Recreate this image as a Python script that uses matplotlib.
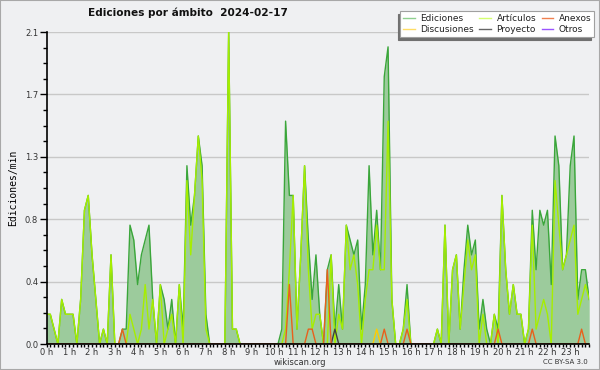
import matplotlib
matplotlib.use('Agg')
import matplotlib.pyplot as plt
import matplotlib.ticker as ticker
from matplotlib.lines import Line2D
from matplotlib.patches import Rectangle
import numpy as np

# edits per minute, one value per 10-minute slot (00:00 .. 23:50)
ediciones = [0.2, 0.2, 0.1, 0.0, 0.3, 0.2, 0.2, 0.2, 0.0, 0.3, 0.9, 1.0,
             0.6, 0.3, 0.0, 0.1, 0.0, 0.6, 0.0, 0.0, 0.1, 0.1, 0.8, 0.7,
             0.4, 0.6, 0.7, 0.8, 0.3, 0.0, 0.4, 0.3, 0.1, 0.3, 0.0, 0.4,
             0.1, 1.2, 0.8, 1.0, 1.4, 1.2, 0.2, 0.0, 0.0, 0.0, 0.0, 0.0,
             2.1, 0.1, 0.1, 0.0, 0.0, 0.0, 0.0, 0.0, 0.0, 0.0, 0.0, 0.0,
             0.0, 0.0, 0.1, 1.5, 1.0, 1.0, 0.1, 0.6, 1.2, 0.7, 0.3, 0.6,
             0.2, 0.0, 0.5, 0.6, 0.1, 0.4, 0.1, 0.8, 0.7, 0.6, 0.7, 0.1,
             0.4, 1.2, 0.6, 0.9, 0.5, 1.8, 2.0, 0.3, 0.0, 0.0, 0.1, 0.4,
             0.0, 0.0, 0.0, 0.0, 0.0, 0.0, 0.0, 0.1, 0.0, 0.8, 0.0, 0.5,
             0.6, 0.1, 0.5, 0.8, 0.6, 0.7, 0.1, 0.3, 0.1, 0.0, 0.2, 0.1,
             1.0, 0.5, 0.2, 0.4, 0.2, 0.2, 0.0, 0.1, 0.9, 0.5, 0.9, 0.8,
             0.9, 0.4, 1.4, 1.2, 0.5, 0.6, 1.2, 1.4, 0.3, 0.5, 0.5, 0.3]

articulos = [0.2, 0.2, 0.1, 0.0, 0.3, 0.2, 0.2, 0.2, 0.0, 0.3, 0.9, 1.0,
             0.6, 0.3, 0.0, 0.1, 0.0, 0.6, 0.0, 0.0, 0.0, 0.0, 0.2, 0.1,
             0.0, 0.1, 0.4, 0.1, 0.3, 0.0, 0.4, 0.0, 0.1, 0.2, 0.0, 0.4,
             0.0, 1.1, 0.6, 1.0, 1.4, 1.1, 0.1, 0.0, 0.0, 0.0, 0.0, 0.0,
             2.1, 0.1, 0.1, 0.0, 0.0, 0.0, 0.0, 0.0, 0.0, 0.0, 0.0, 0.0,
             0.0, 0.0, 0.0, 0.1, 0.5, 1.0, 0.1, 0.6, 1.2, 0.5, 0.1, 0.2,
             0.2, 0.0, 0.0, 0.6, 0.0, 0.2, 0.1, 0.8, 0.5, 0.6, 0.4, 0.0,
             0.3, 0.5, 0.5, 0.8, 0.5, 0.5, 1.5, 0.3, 0.0, 0.0, 0.1, 0.3,
             0.0, 0.0, 0.0, 0.0, 0.0, 0.0, 0.0, 0.1, 0.0, 0.8, 0.0, 0.5,
             0.6, 0.1, 0.4, 0.7, 0.5, 0.6, 0.0, 0.2, 0.0, 0.0, 0.2, 0.0,
             1.0, 0.5, 0.2, 0.4, 0.2, 0.2, 0.0, 0.1, 0.8, 0.1, 0.2, 0.3,
             0.2, 0.0, 1.1, 0.8, 0.5, 0.6, 0.7, 0.8, 0.2, 0.3, 0.4, 0.3]

anexos = [0.0, 0.0, 0.0, 0.0, 0.0, 0.0, 0.0, 0.0, 0.0, 0.0, 0.0, 0.0,
          0.0, 0.0, 0.0, 0.0, 0.0, 0.0, 0.0, 0.0, 0.1, 0.0, 0.0, 0.0,
          0.0, 0.0, 0.0, 0.0, 0.0, 0.0, 0.0, 0.0, 0.0, 0.0, 0.0, 0.0,
          0.0, 0.0, 0.0, 0.0, 0.0, 0.0, 0.0, 0.0, 0.0, 0.0, 0.0, 0.0,
          0.0, 0.0, 0.0, 0.0, 0.0, 0.0, 0.0, 0.0, 0.0, 0.0, 0.0, 0.0,
          0.0, 0.0, 0.0, 0.0, 0.4, 0.0, 0.0, 0.0, 0.0, 0.1, 0.1, 0.0,
          0.0, 0.0, 0.5, 0.0, 0.0, 0.0, 0.0, 0.0, 0.0, 0.0, 0.0, 0.0,
          0.0, 0.0, 0.0, 0.0, 0.0, 0.1, 0.0, 0.0, 0.0, 0.0, 0.0, 0.1,
          0.0, 0.0, 0.0, 0.0, 0.0, 0.0, 0.0, 0.0, 0.0, 0.0, 0.0, 0.0,
          0.0, 0.0, 0.0, 0.0, 0.0, 0.0, 0.0, 0.0, 0.0, 0.0, 0.0, 0.1,
          0.0, 0.0, 0.0, 0.0, 0.0, 0.0, 0.0, 0.0, 0.1, 0.0, 0.0, 0.0,
          0.0, 0.0, 0.0, 0.0, 0.0, 0.0, 0.0, 0.0, 0.0, 0.1, 0.0, 0.0]

discusiones = [0.0] * 87 + [0.1] + [0.0] * 56
proyecto = [0.0] * 76 + [0.1] + [0.0] * 67
otros = [0.0] * 144

hour_labels = ['%d h' % h for h in range(24)]
yticks = [0.0, 0.42, 0.84, 1.26, 1.68, 2.1]

bg = '#eff0f2'
series = [
    ('Ediciones', ediciones, '#3aa63a', '#8fd08f'),
    ('Discusiones', discusiones, '#ffcc00', '#ffdd66'),
    ('Artículos', articulos, '#a6ee00', '#d4ff70'),
    ('Proyecto', proyecto, '#404040', '#666666'),
    ('Anexos', anexos, '#e8601c', '#f08050'),
    ('Otros', otros, '#8833ff', '#9a55ff'),
]

fig = plt.figure(figsize=(6, 3.7), dpi=100, facecolor=bg)
ax = fig.add_axes([46.5 / 600, 26 / 370, 542.7 / 600, 312 / 370])
ax.set_facecolor(bg)

x = np.arange(len(ediciones))
ax.fill_between(x, ediciones, 0, color='#9ccb9c', lw=0, zorder=1)
ax.plot(x, ediciones, color='#3aa63a', lw=1.0, zorder=2)
ax.plot(x, articulos, color='#a6ee00', lw=1.0, zorder=2.1)
ax.plot(x, discusiones, color='#ffcc00', lw=1.0, zorder=2.2)
ax.plot(x, proyecto, color='#404040', lw=1.0, zorder=2.2)
ax.plot(x, anexos, color='#e8601c', lw=1.0, zorder=2.3)
ax.plot(x, otros, color='#8833ff', lw=1.0, zorder=2.2)

ax.set_xlim(0, len(ediciones) - 1)
ax.set_ylim(0, 2.1)

ax.xaxis.set_major_locator(ticker.FixedLocator(np.arange(0, 144, 6)))
ax.xaxis.set_major_formatter(ticker.FixedFormatter(hour_labels))
ax.xaxis.set_minor_locator(ticker.MultipleLocator(1))
ax.yaxis.set_major_locator(ticker.FixedLocator(yticks))
ax.yaxis.set_major_formatter(ticker.FormatStrFormatter('%.1f'))
ax.yaxis.set_minor_locator(ticker.FixedLocator(np.arange(0, 2.11, 0.105)))

ax.tick_params(axis='x', which='major', length=2.5, width=1, labelsize=6, pad=0.5)
ax.tick_params(axis='x', which='minor', length=2.5, width=1)
ax.tick_params(axis='y', which='major', length=5, width=1, labelsize=6, pad=1)
ax.tick_params(axis='y', which='minor', length=3, width=1)
for lab in ax.get_xticklabels() + ax.get_yticklabels():
    lab.set_color('#333333')

ax.grid(axis='y', which='major', color='#c8c8c8', lw=1)
ax.set_axisbelow(True)
for s in ['top', 'right']:
    ax.spines[s].set_visible(False)
for s in ['left', 'bottom']:
    ax.spines[s].set_linewidth(1.2)
    ax.spines[s].set_zorder(5)

ax.set_ylabel('Ediciones/min', family='DejaVu Sans Mono', fontsize=7, labelpad=5)

fig.text(0.314, 0.966, 'Ediciones por ámbito  2024-02-17', fontsize=7.6,
         fontweight='bold', ha='center', va='center', color='#111111')

handles = [Line2D([], [], color=c2, lw=1) for _, _, _, c2 in series]
labels = [n for n, _, _, _ in series]
leg = ax.legend(handles, labels, ncol=3, loc='upper right',
                bbox_to_anchor=(594 / 600, 1 - 11 / 370), bbox_transform=fig.transFigure,
                fontsize=6.5, frameon=True, fancybox=False, handlelength=1.3,
                handletextpad=0.6, columnspacing=0.6, labelspacing=0.3,
                borderpad=0.3, borderaxespad=0,
                shadow={'ox': -2, 'oy': -2, 'color': '#707070', 'alpha': 1})
leg.get_frame().set_facecolor('white')
leg.get_frame().set_edgecolor('#a0a0a0')
leg.get_frame().set_linewidth(0.8)
for t in leg.get_texts():
    t.set_color('#222222')

fig.text(0.5, 1 - 362.5 / 370, 'wikiscan.org', fontsize=6, ha='center', va='center', color='#333333')
fig.text(588 / 600, 1 - 362.5 / 370, 'CC BY-SA 3.0', fontsize=5, ha='right', va='center', color='#333333')

fig.patches.append(Rectangle((0, 0), 1, 1, transform=fig.transFigure, fill=False,
                             edgecolor='#a8a8a8', lw=1.5))

fig.savefig('out.png', dpi=100, facecolor=bg)
